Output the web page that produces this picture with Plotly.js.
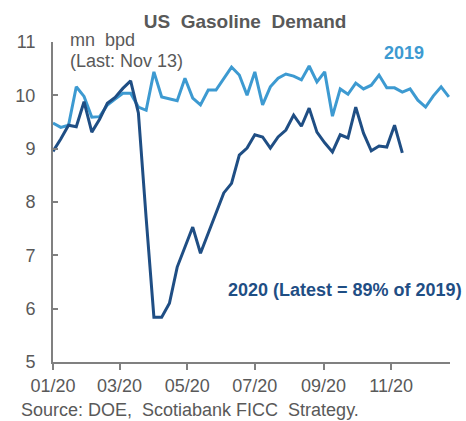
<!DOCTYPE html>
<html>
<head>
<meta charset="utf-8">
<script src="https://cdn.plot.ly/plotly-3.0.1.min.js"></script>
<style>html,body{margin:0;padding:0;background:#fff;}#chart{width:466px;height:421px;}</style>
</head>
<body>
<div id="chart"></div>
<script>
// Weekly dates (2019 plotted on the 2020 calendar for comparison)
var weeks = ['2020-01-01','2020-01-08','2020-01-15','2020-01-22','2020-01-29','2020-02-05','2020-02-12','2020-02-19','2020-02-26',
  '2020-03-04','2020-03-11','2020-03-18','2020-03-25','2020-04-01','2020-04-08','2020-04-15','2020-04-22','2020-04-29',
  '2020-05-06','2020-05-13','2020-05-20','2020-05-27','2020-06-03','2020-06-10','2020-06-17','2020-06-24','2020-07-01',
  '2020-07-08','2020-07-15','2020-07-22','2020-07-29','2020-08-05','2020-08-12','2020-08-19','2020-08-26','2020-09-02',
  '2020-09-09','2020-09-16','2020-09-23','2020-09-30','2020-10-07','2020-10-14','2020-10-21','2020-10-28','2020-11-04',
  '2020-11-11','2020-11-18','2020-11-25','2020-12-02','2020-12-09','2020-12-16','2020-12-23'];

var demand2019 = [9.48,9.40,9.44,10.16,9.98,9.59,9.60,9.82,9.93,10.04,10.04,9.78,9.72,10.44,9.97,9.93,9.90,10.32,9.95,9.82,
  10.10,10.10,10.32,10.53,10.38,10.00,10.44,9.82,10.16,10.32,10.40,10.36,10.29,10.55,10.25,10.44,9.61,10.12,10.02,10.23,
  10.12,10.19,10.38,10.14,10.14,10.06,10.12,9.91,9.78,9.99,10.16,9.97];

var demand2020 = [8.95,9.18,9.44,9.41,9.88,9.31,9.55,9.85,9.96,10.13,10.27,9.67,7.70,5.84,5.84,6.10,6.78,7.15,7.53,7.04,
  7.42,7.81,8.17,8.35,8.88,9.01,9.26,9.22,9.01,9.22,9.35,9.63,9.42,9.76,9.31,9.11,8.94,9.26,9.20,9.78,9.29,8.96,9.05,9.03,
  9.44,8.92];

var xTickVals = ['2020-01-01','2020-03-01','2020-05-01','2020-07-01','2020-09-01','2020-11-01'];
var xTickText = ['01/20','03/20','05/20','07/20','09/20','11/20'];
var yTickVals = [5,6,7,8,9,10,11];

var lightBlue = '#3d9ad1';
var darkBlue = '#1f4e84';
var gray = '#595959';
var fontFam = '"Liberation Sans", Arial, sans-serif';

var traces = [
  {x: weeks, y: demand2019, type: 'scatter', mode: 'lines', line: {color: lightBlue, width: 3}, name: '2019'},
  {x: weeks.slice(0, demand2020.length), y: demand2020, type: 'scatter', mode: 'lines', line: {color: darkBlue, width: 3}, name: '2020'}
];

var layout = {
  width: 466, height: 421,
  margin: {l: 53, r: 16, t: 42, b: 59},
  paper_bgcolor: '#fff', plot_bgcolor: '#fff',
  showlegend: false,
  font: {family: fontFam, color: gray, size: 18},
  title: {text: '<b>US&nbsp; Gasoline&nbsp; Demand</b>', font: {family: fontFam, size: 19, color: gray},
    xref: 'container', x: 0.526, xanchor: 'center', yref: 'container', y: 0.95, yanchor: 'middle'},
  xaxis: {type: 'date', range: ['2020-01-01', '2020-12-24'], tickmode: 'array', tickvals: xTickVals, ticktext: xTickText,
    showgrid: false, zeroline: false, showline: true, linecolor: '#808080', linewidth: 2,
    ticks: 'outside', ticklen: 6, tickwidth: 2, tickcolor: '#808080', tickfont: {size: 18, color: gray}},
  yaxis: {range: [5, 11], tickmode: 'array', tickvals: yTickVals, showgrid: false, zeroline: false,
    showline: true, linecolor: '#808080', linewidth: 2, ticks: 'inside', ticklen: 5, tickwidth: 2, tickcolor: '#808080',
    tickfont: {size: 18, color: gray}, ticklabelstandoff: 12},
  annotations: [
    {text: 'mn&nbsp; bpd', xref: 'paper', yref: 'paper', x: 0.038, y: (362 - 40) / 320, xanchor: 'left', yanchor: 'middle',
      align: 'left', showarrow: false, font: {size: 18, color: gray}},
    {text: '(Last: Nov 13)', xref: 'paper', yref: 'paper', x: 0.038, y: (362 - 61) / 320, xanchor: 'left', yanchor: 'middle',
      align: 'left', showarrow: false, font: {size: 18, color: gray}},
    {text: '<b>2019</b>', xref: 'paper', yref: 'paper', x: 0.884, y: 0.966, xanchor: 'center', yanchor: 'middle',
      showarrow: false, font: {size: 18, color: lightBlue}},
    {text: '<b>2020 (Latest = 89% of 2019)</b>', xref: 'paper', yref: 'paper', x: 1.035, y: 0.225, xanchor: 'right', yanchor: 'middle',
      showarrow: false, font: {size: 18, color: darkBlue}},
    {text: 'Source: DOE,&nbsp; Scotiabank FICC&nbsp; Strategy.', xref: 'paper', yref: 'paper', x: -0.086, y: (362 - 410) / 320, xanchor: 'left', yanchor: 'middle',
      showarrow: false, font: {size: 18, color: gray}}
  ]
};

Plotly.newPlot('chart', traces, layout, {displayModeBar: false, staticPlot: true});
</script>
</body>
</html>
